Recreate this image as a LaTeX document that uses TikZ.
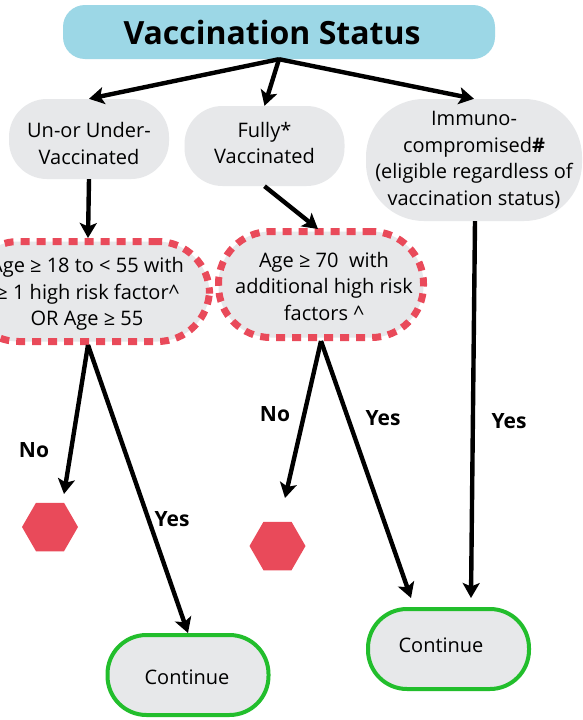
\documentclass[tikz,border=0pt]{standalone}
\usepackage{fontspec}
\setmainfont{Open Sans}
\usetikzlibrary{arrows.meta,shapes.geometric,calc}
\definecolor{titlefill}{HTML}{9CD7E6}
\definecolor{boxfill}{HTML}{E7E8EA}
\definecolor{alertred}{HTML}{E94A5A}
\definecolor{okgreen}{HTML}{22BE2C}
\newcommand{\dropline}[1]{\rule{0pt}{#1pt}}
\newcommand{\liftline}[1]{\rule[-#1pt]{0pt}{1pt}}
\tikzset{
  bodytext/.style={font=\fontsize{20}{26.5}\selectfont,align=center,text=black,inner sep=0pt},
  softbox/.style={bodytext,fill=boxfill,minimum width=160,minimum height=80,rounded corners=38},
  alertbox/.style={bodytext,fill=boxfill,draw=alertred,line width=7pt,dash pattern=on 9pt off 7pt,rounded corners=52},
  gobox/.style={bodytext,fill=boxfill,draw=okgreen,line width=4pt,minimum width=161,minimum height=80,rounded corners=39},
  stophex/.style={regular polygon,regular polygon sides=6,fill=alertred,minimum size=56,inner sep=0pt},
  choice/.style={font=\fontsize{21}{24}\bfseries\selectfont,inner sep=0pt},
  flow/.style={draw=black,line width=4.4pt,-{Stealth[length=15pt,width=17pt,inset=3.5pt]}},
}
\begin{document}
\begin{tikzpicture}[x=1pt,y=-1pt]
\clip (0,0) rectangle (582,720);
\fill[white] (0,0) rectangle (582,720);
\node[fill=titlefill,minimum width=432,minimum height=54,rounded corners=22,inner sep=0pt,font=\fontsize{32}{38}\bfseries\selectfont] (title) at (279,32) {Vaccination Status\hspace*{14pt}};
\node[softbox] (un) at (89,139) {\dropline{24}Un-or Under-\\Vaccinated};
\node[softbox] (fully) at (264.5,146) {Fully*\\Vaccinated\liftline{6}};
\node[bodytext,fill=boxfill,minimum width=216,minimum height=122,rounded corners=58] (immuno) at (474,160) {Immuno-\\compromised\textbf{\#}\\(eligible regardless of\\vaccination status)};
\node[alertbox,minimum width=243,minimum height=100] (ageL) at (88,291.5) {\dropline{20}Age ≥ 18 to < 55 with\hspace*{2pt}\\≥ 1 high risk factor\^{}\hspace*{2pt}\\OR Age ≥ 55\hspace*{2pt}};
\node[alertbox,minimum width=205,minimum height=106] (ageR) at (321,284.5) {\dropline{19}\hspace*{6pt}Age ≥ 70~ with\\\hspace*{6pt}additional high risk\\\hspace*{6pt}factors \^{}};
\node[stophex] (stopL) at (50,527) {};
\node[stophex] (stopR) at (277.5,546) {};
\node[gobox] (goL) at (188,675) {\dropline{20}Continue\hspace*{2pt}};
\node[gobox] (goR) at (448.5,649) {};
\node[bodytext] (goRtext) at (441,645) {Continue};
\coordinate (endNoL) at (64,494);
\coordinate (endNoR) at (285,498);
\coordinate (endYesR) at (411,598);
\coordinate (endImm) at (471,598);
\coordinate (endAgeR) at (318,229);
\node[choice] (noL) at (34,450) {No};
\node[choice] (yesL) at (172,519) {Yes};
\node[choice] (noR) at (275,414) {No};
\node[choice] (yesR) at (383,418) {Yes};
\node[choice] (yesI) at (509,421) {Yes};
\draw[flow] (title.south) -- (un.north);
\draw[flow] (title.south) -- (fully.north);
\draw[flow] (title.south) -- (immuno.north);
\draw[flow] (un.south) -- (ageL.north);
\draw[flow] (fully.south) -- (endAgeR);
\draw[flow] (immuno.south) ++(1,0) -- (endImm);
\draw[flow] (ageL.south) -- (endNoL);
\draw[flow] (ageL.south) -- (goL.north);
\draw[flow] (ageR.south) -- (endNoR);
\draw[flow] (ageR.south) -- (endYesR);
\end{tikzpicture}
\end{document}
